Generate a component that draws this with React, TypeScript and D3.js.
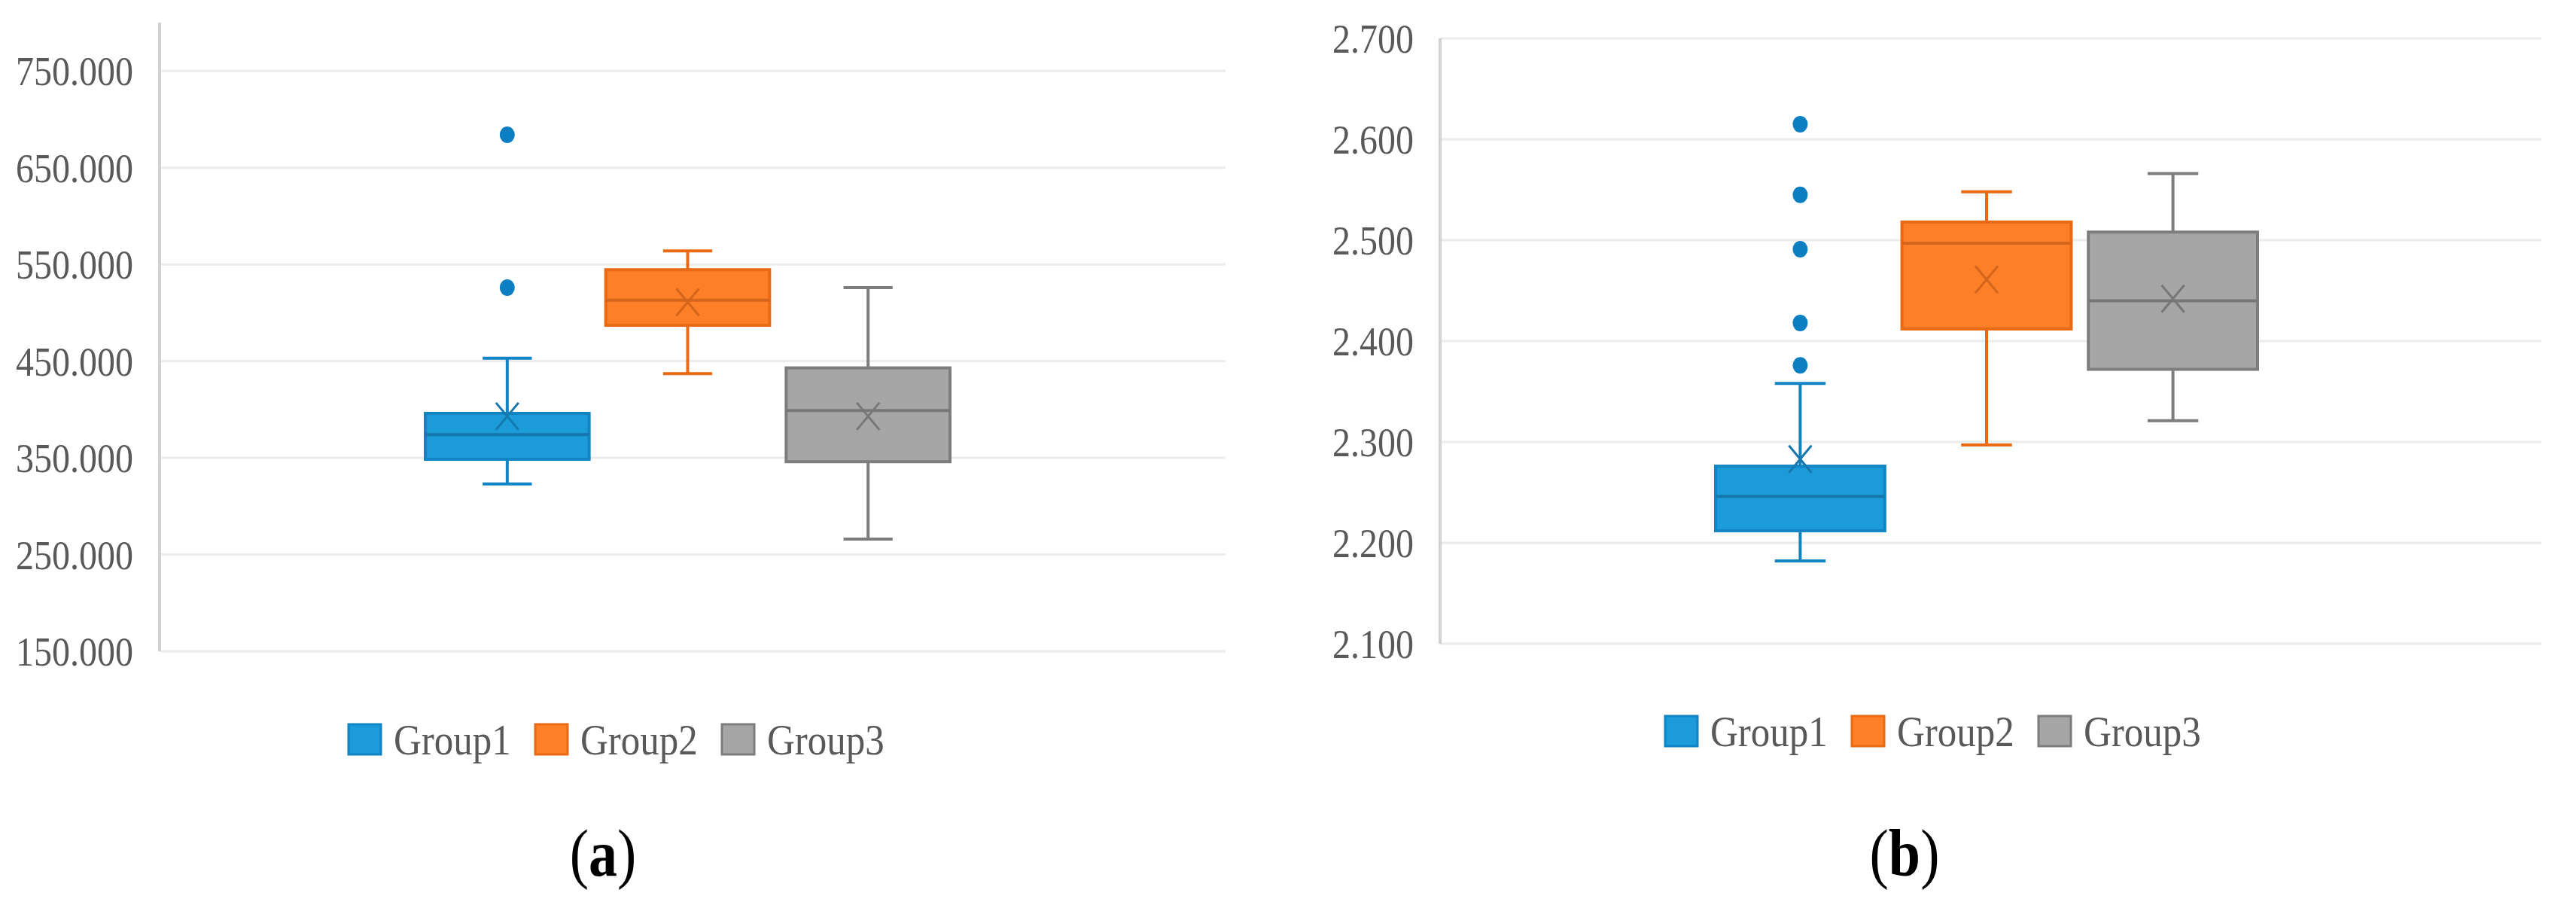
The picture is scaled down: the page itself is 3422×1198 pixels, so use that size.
import React from 'react';
import * as d3 from 'd3';

// groups / legend
const groups = ['Group1', 'Group2', 'Group3'];
const fills = ['#1b9bd7', '#fd7f27', '#a6a6a6'];
const edges = ['#1184c4', '#e96a12', '#7d7d7d'];
const darks = ['#1577ad', '#d3651d', '#777777'];

// panel (a) statistics
const aLow = [323, 437, 266];
const aQ1 = [348.5, 487, 346];
const aMedian = [374, 513, 399];
const aQ3 = [396, 544.5, 443];
const aHigh = [453, 564, 526];
const aMean = [393, 511, 393];
const aOutliers = [[684, 526], [], []];
const aTicks = [150, 250, 350, 450, 550, 650, 750];

// panel (b) statistics
const bLow = [2.182, 2.297, 2.321];
const bQ1 = [2.212, 2.412, 2.372];
const bMedian = [2.246, 2.497, 2.44];
const bQ3 = [2.276, 2.518, 2.508];
const bHigh = [2.358, 2.548, 2.566];
const bMean = [2.283, 2.461, 2.442];
const bOutliers = [[2.615, 2.545, 2.491, 2.418, 2.376], [], []];
const bTicks = [2.1, 2.2, 2.3, 2.4, 2.5, 2.6, 2.7];

const fmt = d3.format('.3f');
const FONT = '"Liberation Serif", "Times New Roman", serif';
const STRETCH = 1.13;

function Stretched({ x, y, anchor = 'start', size, fill, children, weight = 'normal' }: any) {
  return (
    <g transform={`translate(${x},${y}) scale(1,${STRETCH})`}>
      <text textAnchor={anchor} dy="0.35em" fontSize={size} fill={fill} fontFamily={FONT} fontWeight={weight}>
        {children}
      </text>
    </g>
  );
}

function BoxPanel({ low, q1, med, q3, high, mean, outliers, ticks, domain, yRange, left, right, band, legendX, legendY, caption, captionX }: any) {
  const y = d3.scaleLinear().domain(domain).range(yRange);
  const x = d3.scaleBand().domain(groups).range(band).paddingInner(0.092).paddingOuter(0);
  const bw = x.bandwidth();
  const cap = bw * 0.3;

  return (
    <g>
      {ticks.map((t: number) => (
        <line key={'g' + t} x1={left} x2={right} y1={y(t)} y2={y(t)} stroke="#ececec" strokeWidth={3} />
      ))}
      <line x1={left} x2={left} y1={y(domain[0])} y2={y(domain[1])} stroke="#d2d2d2" strokeWidth={4} />
      {ticks.map((t: number) => (
        <Stretched key={'t' + t} x={left - 35} y={y(t)} anchor="end" size={48} fill="#595959">
          {fmt(t)}
        </Stretched>
      ))}

      {groups.map((g, i) => {
        const cx = (x(g) as number) + bw / 2;
        const x0 = x(g) as number;
        const ym = y(mean[i]);
        return (
          <g key={g}>
            <line x1={cx} x2={cx} y1={y(high[i])} y2={y(q3[i])} stroke={edges[i]} strokeWidth={4} />
            <line x1={cx} x2={cx} y1={y(q1[i])} y2={y(low[i])} stroke={edges[i]} strokeWidth={4} />
            <line x1={cx - cap / 2} x2={cx + cap / 2} y1={y(high[i])} y2={y(high[i])} stroke={edges[i]} strokeWidth={4} />
            <line x1={cx - cap / 2} x2={cx + cap / 2} y1={y(low[i])} y2={y(low[i])} stroke={edges[i]} strokeWidth={4} />
            <rect x={x0} y={y(q3[i])} width={bw} height={y(q1[i]) - y(q3[i])} fill={fills[i]} stroke={edges[i]} strokeWidth={4} />
            <line x1={x0} x2={x0 + bw} y1={y(med[i])} y2={y(med[i])} stroke={darks[i]} strokeWidth={4} />
            <path
              d={`M${cx - 15},${ym - 18}L${cx + 15},${ym + 18}M${cx + 15},${ym - 18}L${cx - 15},${ym + 18}`}
              stroke={darks[i]}
              strokeWidth={3}
              fill="none"
            />
            {outliers[i].map((o: number) => (
              <ellipse key={o} cx={cx} cy={y(o)} rx={10} ry={11} fill="#0b7fc2" />
            ))}
          </g>
        );
      })}

      {groups.map((g, i) => (
        <g key={'l' + g}>
          <rect x={legendX + i * 248} y={legendY - 20} width={43} height={40} fill={fills[i]} stroke={edges[i]} strokeWidth={3} />
          <Stretched x={legendX + i * 248 + 60} y={legendY} size={51} fill="#595959">
            {g}
          </Stretched>
        </g>
      ))}

      <g transform={`translate(${captionX},1132) scale(1,1.18)`}>
        <text textAnchor="middle" dy="0.35em" fontSize={76} fontFamily={FONT} fill="#000">
          (<tspan fontWeight="bold">{caption}</tspan>)
        </text>
      </g>
    </g>
  );
}

export default function App() {
  return (
    <svg width={3422} height={1198} style={{ position: 'absolute', left: 0, top: 0, background: '#fff' }}>
      <rect width={3422} height={1198} fill="#fff" />
      <BoxPanel
        low={aLow} q1={aQ1} med={aMedian} q3={aQ3} high={aHigh} mean={aMean} outliers={aOutliers}
        ticks={aTicks} domain={[150, 800]} yRange={[865, 30]}
        left={212} right={1628} band={[565, 1262]}
        legendX={463} legendY={982} caption="a" captionX={801}
      />
      <BoxPanel
        low={bLow} q1={bQ1} med={bMedian} q3={bQ3} high={bHigh} mean={bMean} outliers={bOutliers}
        ticks={bTicks} domain={[2.1, 2.7]} yRange={[855, 51]}
        left={1913} right={3376} band={[2279, 2999]}
        legendX={2212} legendY={971} caption="b" captionX={2530}
      />
    </svg>
  );
}
